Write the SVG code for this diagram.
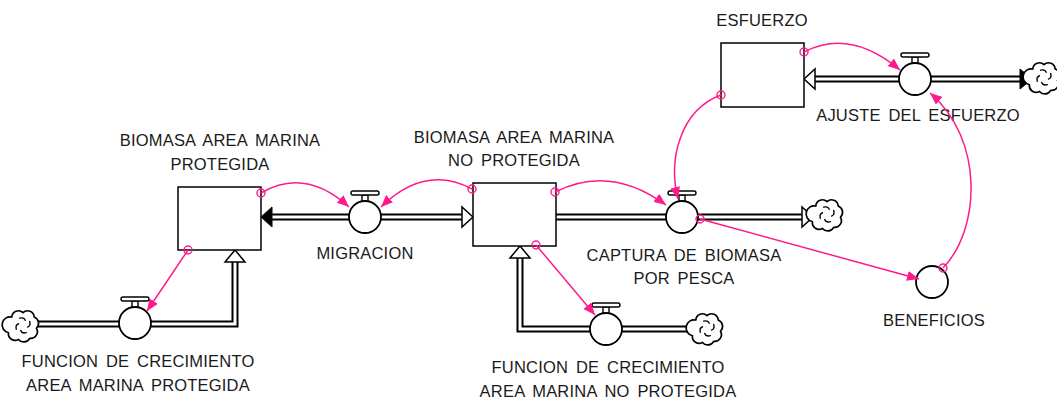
<svg xmlns="http://www.w3.org/2000/svg" xmlns:xlink="http://www.w3.org/1999/xlink" width="1057" height="401" viewBox="0 0 1057 401">
<style>
.stock{fill:#fff;stroke:#000;stroke-width:1.5}
.pipeo{fill:none;stroke:#000;stroke-width:7;stroke-linejoin:miter}
.pipei{fill:none;stroke:#fff;stroke-width:3;stroke-linejoin:miter}
.hollow{fill:#fff;stroke:#000;stroke-width:1.5;stroke-linejoin:miter}
.solid{fill:#000;stroke:#000;stroke-width:1}
.cl{fill:#fff;stroke:#000;stroke-width:1.5;stroke-linejoin:round}
.cli{fill:none;stroke:#000;stroke-width:1.2;stroke-linecap:round}
.vc{fill:#fff;stroke:#000;stroke-width:1.8}
.vh{fill:#fff;stroke:#000;stroke-width:1.4}
.lnk{fill:none;stroke:#ff1a8c;stroke-width:1.5;marker-end:url(#ah)}
.org{fill:none;stroke:#ff1a8c;stroke-width:1.4}
text{font-family:"Liberation Sans",Arial,sans-serif;font-size:16.5px;fill:#1a1a1a;text-anchor:middle;letter-spacing:0.2px;word-spacing:3px}
</style>
<defs>
<marker id="ah" markerUnits="userSpaceOnUse" markerWidth="13" markerHeight="10" refX="12" refY="5" orient="auto">
<path d="M0,0 L12,5 L0,10 z" fill="#ff1a8c"/>
</marker>
<g id="cloud">
<g transform="scale(1.12)">
<path class="cl" d="M-10,-8 a6,6 0 0 1 10,-4 a6,6 0 0 1 10,4 a6,6 0 0 1 2,10 a6,6 0 0 1 -6,9 a6,6 0 0 1 -10,1 a6,6 0 0 1 -9,-6 a6,6 0 0 1 3,-14 z"/>
<path class="cli" d="M-3,-7 q4,-1 5,2 M6,-4 q1,4 -2,5 M3,6 q-4,1 -5,-2 M-6,3 q-1,-4 2,-5"/>
</g>
</g>
<g id="valve">
<rect class="vh" x="-3" y="-22" width="6" height="7"/>
<rect class="vh" x="-14" y="-26" width="28" height="4" rx="2"/>
<circle class="vc" r="16"/>
</g>
</defs>
<rect width="1057" height="401" fill="#fff"/>

<g id="pipes">
<path class="pipeo" d="M272,217 H462"/><path class="pipei" d="M272,217 H462"/>
<path class="pipeo" d="M556,217 H802"/><path class="pipei" d="M556,217 H802"/>
<path class="pipeo" d="M815,79 H1020"/><path class="pipei" d="M815,79 H1020"/>
<path class="pipeo" d="M38,324 H235 V262"/><path class="pipei" d="M38,324 H235 V262"/>
<path class="pipeo" d="M694,329 H520 V258"/><path class="pipei" d="M694,329 H520 V258"/>
<polygon class="solid" points="261,217 272,207 272,227"/>
<polygon class="hollow" points="473,217 462,207 462,227"/>
<polygon class="hollow" points="813,217 802,207 802,227"/>
<polygon class="hollow" points="804,79 815,69 815,89"/>
<polygon class="solid" points="1032,79 1020,69 1020,89"/>
<polygon class="hollow" points="235,250 225,262 245,262"/>
<polygon class="hollow" points="520,246 510,258 530,258"/>
</g>

<g id="clouds">
<use xlink:href="#cloud" x="23" y="326"/>
<use xlink:href="#cloud" x="707" y="329"/>
<use xlink:href="#cloud" x="827" y="215"/>
<use xlink:href="#cloud" x="1044" y="78"/>
</g>

<g id="stock-amp">
<rect class="stock" x="178" y="187" width="83" height="63"/>
<text x="220" y="146">BIOMASA AREA MARINA</text>
<text x="220" y="170">PROTEGIDA</text>
</g>
<g id="stock-amnp">
<rect class="stock" x="473" y="183" width="83" height="63"/>
<text x="514" y="143">BIOMASA AREA MARINA</text>
<text x="514" y="166">NO PROTEGIDA</text>
</g>
<g id="stock-esfuerzo">
<rect class="stock" x="721" y="43" width="83" height="64"/>
<text x="762" y="26">ESFUERZO</text>
</g>

<g id="flow-migracion">
<use xlink:href="#valve" x="365" y="217"/>
<text x="365" y="259">MIGRACION</text>
</g>
<g id="flow-captura">
<use xlink:href="#valve" x="682" y="217"/>
<text x="684" y="261">CAPTURA DE BIOMASA</text>
<text x="684" y="284">POR PESCA</text>
</g>
<g id="flow-ajuste">
<use xlink:href="#valve" x="915" y="79"/>
<text x="918" y="121">AJUSTE DEL ESFUERZO</text>
</g>
<g id="flow-crec-amp">
<use xlink:href="#valve" x="135" y="323"/>
<text x="138" y="367">FUNCION DE CRECIMIENTO</text>
<text x="138" y="391">AREA MARINA PROTEGIDA</text>
</g>
<g id="flow-crec-amnp">
<use xlink:href="#valve" x="606" y="329"/>
<text x="608" y="373">FUNCION DE CRECIMIENTO</text>
<text x="608" y="397">AREA MARINA NO PROTEGIDA</text>
</g>
<g id="aux-beneficios">
<circle class="vc" cx="932" cy="282" r="16"/>
<text x="934" y="326">BENEFICIOS</text>
</g>

<g id="connectors">
<path class="lnk" d="M261,193 Q305,167 349,207"/>
<path class="lnk" d="M472,189 Q425,164 381,207"/>
<path class="lnk" d="M555,192 Q610,164 666,205"/>
<path class="lnk" d="M721,95 C680,110 668,160 678,199"/>
<path class="lnk" d="M804,52 Q850,28 900,70"/>
<path class="lnk" d="M700,219 L919,279"/>
<path class="lnk" d="M943,268 C980,230 985,140 930,93"/>
<path class="lnk" d="M188,250 L147,311"/>
<path class="lnk" d="M536,245 L595,315"/>
<circle class="org" cx="261" cy="193" r="4"/>
<circle class="org" cx="472" cy="189" r="4"/>
<circle class="org" cx="555" cy="192" r="4"/>
<circle class="org" cx="721" cy="95" r="4"/>
<circle class="org" cx="804" cy="52" r="4"/>
<circle class="org" cx="700" cy="219" r="4"/>
<circle class="org" cx="943" cy="268" r="4"/>
<circle class="org" cx="188" cy="250" r="4"/>
<circle class="org" cx="536" cy="245" r="4"/>
</g>
</svg>
